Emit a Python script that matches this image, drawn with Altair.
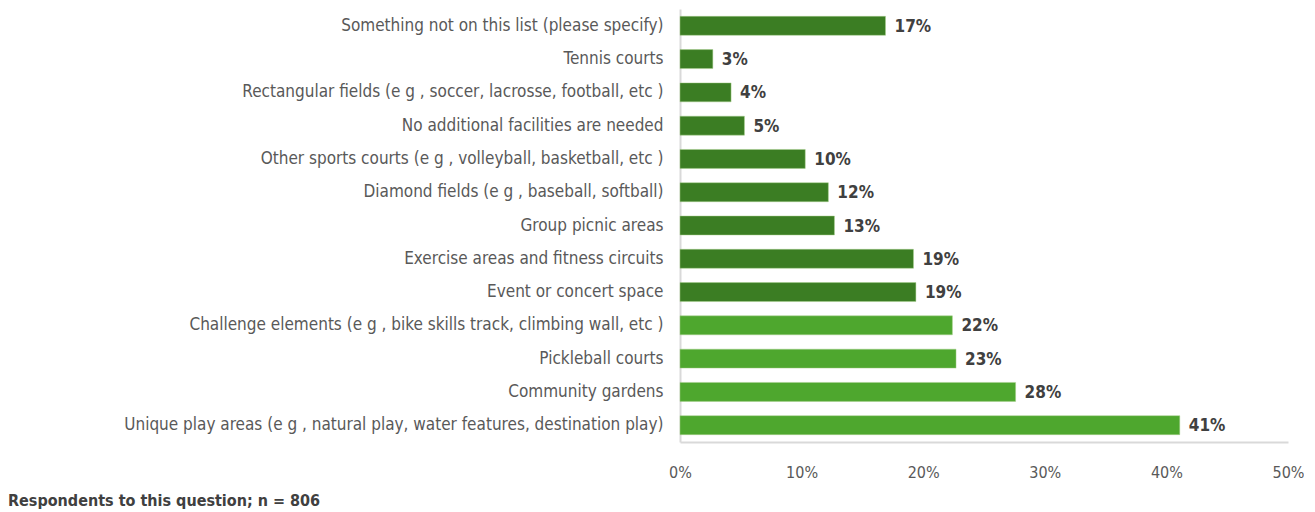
import altair as alt
import pandas as pd

categories = [
    "Something not on this list (please specify)",
    "Tennis courts",
    "Rectangular fields (e g , soccer, lacrosse, football, etc )",
    "No additional facilities are needed",
    "Other sports courts (e g , volleyball, basketball, etc )",
    "Diamond fields (e g , baseball, softball)",
    "Group picnic areas",
    "Exercise areas and fitness circuits",
    "Event or concert space",
    "Challenge elements (e g , bike skills track, climbing wall, etc )",
    "Pickleball courts",
    "Community gardens",
    "Unique play areas (e g , natural play, water features, destination play)",
]
values = [16.9, 2.7, 4.2, 5.3, 10.3, 12.2, 12.7, 19.2, 19.4, 22.4, 22.7, 27.6, 41.1]
labels = ["17%", "3%", "4%", "5%", "10%", "12%", "13%", "19%", "19%", "22%", "23%", "28%", "41%"]
groups = ["other"] * 9 + ["top"] * 4
x_ticks = [0, 10, 20, 30, 40, 50]

df = pd.DataFrame({"category": categories, "value": values, "label": labels, "group": groups})

FONT = "DejaVu Sans Condensed, Open Sans"

y = alt.Y(
    "category:N",
    sort=categories,
    title=None,
    scale=alt.Scale(paddingInner=0.43, paddingOuter=0.22),
    axis=alt.Axis(
        ticks=False,
        domain=True,
        domainColor="#d9d9d9",
        domainWidth=2,
        labelFont=FONT,
        labelFontSize=17,
        labelColor="#595959",
        labelPadding=17,
        labelLimit=700,
    ),
)
x = alt.X(
    "value:Q",
    title=None,
    scale=alt.Scale(domain=[0, 50], nice=False),
    axis=alt.Axis(
        values=x_ticks,
        labelExpr="datum.value + '%'",
        grid=False,
        ticks=False,
        labelFlush=False,
        domainColor="#d9d9d9",
        domainWidth=2,
        labelFont=FONT,
        labelFontSize=16,
        labelColor="#595959",
        labelPadding=22,
    ),
)

bars = alt.Chart(df).mark_bar(stroke="#a9d18e", strokeWidth=0.8, strokeOpacity=0.6).encode(
    y=y,
    x=x,
    color=alt.Color(
        "group:N",
        scale=alt.Scale(domain=["other", "top"], range=["#3B7D23", "#4EA72E"]),
        legend=None,
    ),
)
text = alt.Chart(df).mark_text(
    align="left", baseline="middle", dx=9, dy=1, font=FONT, fontSize=17, fontWeight="bold", color="#404040"
).encode(y=alt.Y("category:N", sort=categories), x="value:Q", text="label:N")

chart = (
    alt.layer(bars, text)
    .properties(
        width=608,
        height=433,
        padding={"left": 0, "top": 1, "right": 0, "bottom": 2},
        title=alt.TitleParams(
            "Respondents to this question; n = 806",
            orient="bottom",
            anchor="start",
            frame="group",
            dx=-672,
            offset=13,
            font=FONT,
            fontSize=16,
            fontWeight="bold",
            color="#404040",
        ),
    )
    .configure_view(stroke=None)
)

chart.save("out.html", embed_options={"renderer": "svg", "actions": False})
